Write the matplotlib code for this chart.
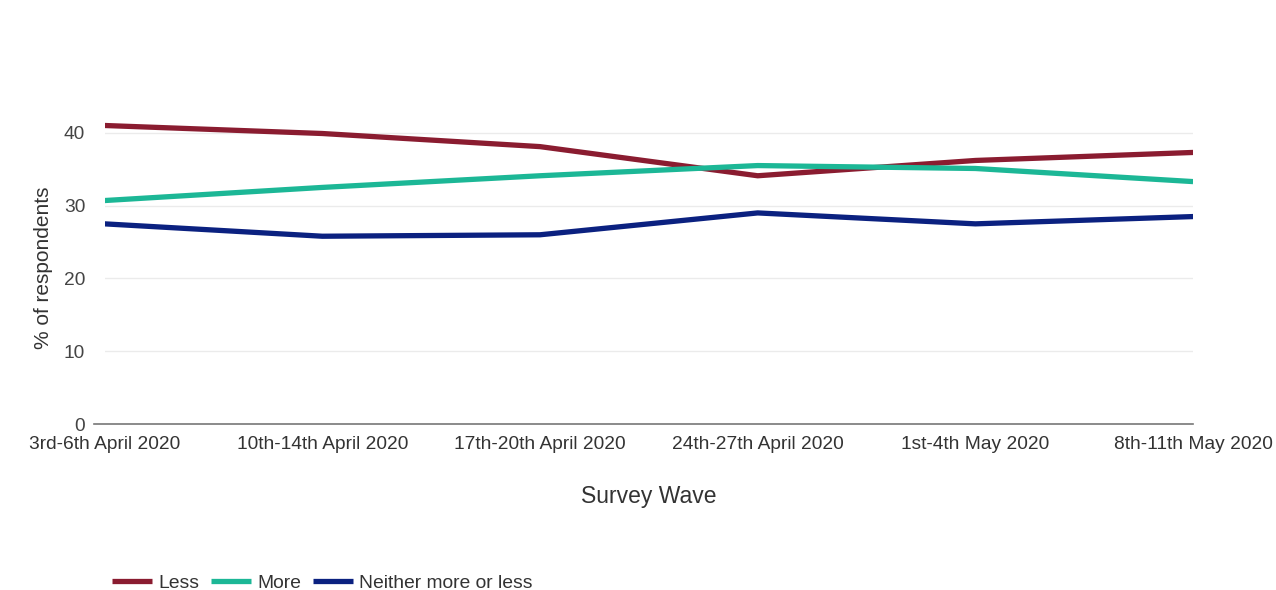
import matplotlib.pyplot as plt

plt.rcParams["font.family"] = ["Liberation Sans", "DejaVu Sans"]

waves = ["3rd-6th April 2020", "10th-14th April 2020", "17th-20th April 2020",
         "24th-27th April 2020", "1st-4th May 2020", "8th-11th May 2020"]
less = [41.0, 39.9, 38.1, 34.1, 36.2, 37.3]
more = [30.7, 32.5, 34.1, 35.5, 35.1, 33.3]
neither = [27.5, 25.8, 26.0, 29.0, 27.5, 28.5]

fig = plt.figure(figsize=(12.76, 5.9), dpi=100)
ax = fig.add_axes([0.082, 0.281, 0.853, 0.531])

x = range(len(waves))
ax.plot(x, less, color="#8a1c30", lw=3.8, label="Less", solid_capstyle="butt")
ax.plot(x, more, color="#1cb796", lw=3.8, label="More", solid_capstyle="butt")
ax.plot(x, neither, color="#0b2180", lw=3.8, label="Neither more or less", solid_capstyle="butt")

ax.set_xlim(0, len(waves) - 1)
ax.set_ylim(0, 43)
ax.set_yticks([0, 10, 20, 30, 40])
ax.set_xticks(list(x))
ax.set_xticklabels(waves, fontsize=13.8, color="#333333")
ax.tick_params(axis="y", labelsize=13.8, labelcolor="#444444", length=0, pad=14)
ax.tick_params(axis="x", length=0, pad=8.5)
ax.grid(axis="y", color="#ebebeb", lw=1)
ax.set_axisbelow(True)
for s in ["top", "right", "left"]:
    ax.spines[s].set_visible(False)
ax.spines["bottom"].set_color("#777777")
ax.spines["bottom"].set_linewidth(1.2)
ax.spines["bottom"].set_bounds(-0.05, len(waves) - 1)
ax.spines["bottom"].set_clip_on(False)

ax.set_ylabel("% of respondents", fontsize=15, color="#333333", labelpad=8)
ax.set_xlabel("Survey Wave", fontsize=16.5, color="#333333", labelpad=23)

fig.legend(loc="lower left", bbox_to_anchor=(0.074, -0.033), ncol=3, frameon=False,
           fontsize=13.9, handlelength=2.1, handletextpad=0.3, columnspacing=0.6,
           labelcolor="#333333")

fig.savefig("out.png", dpi=100)
